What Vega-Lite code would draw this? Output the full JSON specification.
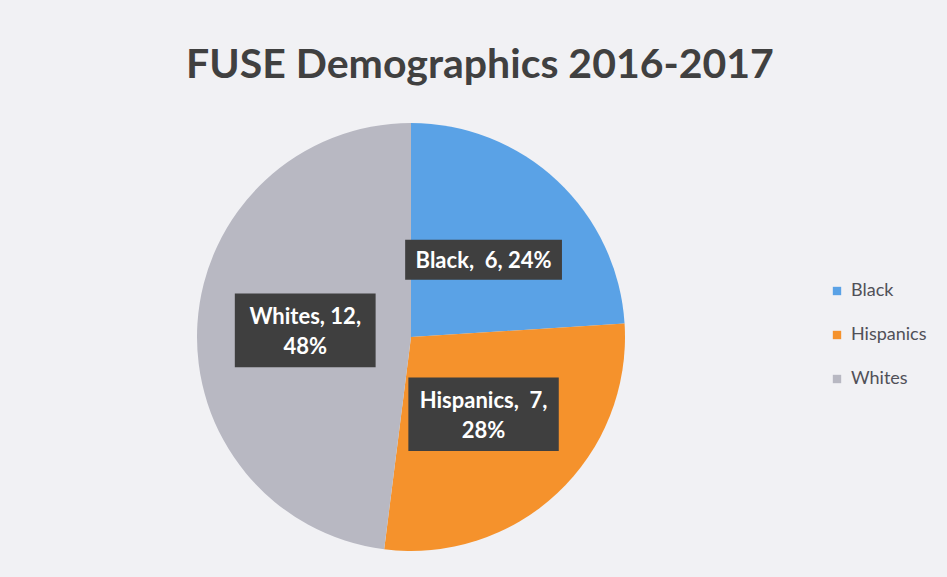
{
  "$schema": "https://vega.github.io/schema/vega-lite/v6.json",
  "autosize": "none",
  "width": 430,
  "height": 430,
  "padding": {"left": 196, "top": 122, "right": 321, "bottom": 25},
  "background": "#f1f1f4",
  "title": {
    "text": "FUSE Demographics 2016-2017",
    "font": "Lato",
    "fontSize": 41,
    "fontWeight": "bold",
    "color": "#404040",
    "anchor": "middle",
    "dx": 69,
    "offset": 35
  },
  "data": {
    "values": [
      {"group": "Black", "value": 6, "order": 1, "lines": 1, "label": ["Black,\u00a0 6, 24%"]},
      {"group": "Hispanics", "value": 7, "order": 2, "lines": 2, "label": ["Hispanics,\u00a0 7,", "28%"]},
      {"group": "Whites", "value": 12, "order": 3, "lines": 2, "label": ["Whites, 12,", "48%"]}
    ]
  },
  "config": {"view": {"stroke": null}},
  "layer": [
    {
      "mark": {"type": "arc", "outerRadius": 214},
      "encoding": {
        "theta": {"field": "value", "type": "quantitative", "stack": true},
        "order": {"field": "order", "type": "quantitative"},
        "color": {
          "field": "group",
          "type": "nominal",
          "scale": {"domain": ["Black", "Hispanics", "Whites"], "range": ["#5aa2e6", "#f5922c", "#b8b8c2"]},
          "legend": {
            "title": null,
            "orient": "none",
            "legendX": 632,
            "legendY": 160,
            "symbolType": "square",
            "symbolSize": 70,
            "symbolStrokeWidth": 0,
            "labelFontSize": 18,
            "labelFont": "Lato",
            "labelColor": "#505058",
            "rowPadding": 26,
            "labelOffset": 5
          }
        }
      }
    },
    {
      "transform": [
        {"joinaggregate": [{"op": "sum", "field": "value", "as": "total"}]},
        {"stack": "value", "groupby": [], "sort": [{"field": "order"}], "as": ["s0", "s1"]},
        {"calculate": "(datum.s0 + datum.s1) / 2 / datum.total * 2 * PI", "as": "mid"},
        {"calculate": "0.493 * sin(datum.mid)", "as": "lx"},
        {"calculate": "0.493 * cos(datum.mid)", "as": "ly"}
      ],
      "layer": [
        {
          "mark": {"type": "point", "filled": true, "opacity": 1, "color": "#3f3f3f", "size": 25600},
          "encoding": {
            "x": {"field": "lx", "type": "quantitative", "scale": {"domain": [-1, 1]}, "axis": null},
            "y": {"field": "ly", "type": "quantitative", "scale": {"domain": [-1, 1]}, "axis": null},
            "shape": {
              "field": "order",
              "type": "nominal",
              "scale": {
                "domain": [1, 2, 3],
                "range": ["M-0.98,-0.25H0.98V0.25H-0.98Z", "M-0.94,-0.46H0.94V0.46H-0.94Z", "M-0.88,-0.46H0.88V0.46H-0.88Z"]
              },
              "legend": null
            }
          }
        },
        {
          "transform": [{"filter": "datum.lines == 1"}],
          "mark": {"type": "text", "font": "Lato", "fontSize": 22, "fontWeight": "bold", "color": "#ffffff", "lineHeight": 30, "baseline": "middle", "align": "center", "dy": 1},
          "encoding": {
            "x": {"field": "lx", "type": "quantitative", "scale": {"domain": [-1, 1]}, "axis": null},
            "y": {"field": "ly", "type": "quantitative", "scale": {"domain": [-1, 1]}, "axis": null},
            "text": {"field": "label"}
          }
        },
        {
          "transform": [{"filter": "datum.lines == 2"}],
          "mark": {"type": "text", "font": "Lato", "fontSize": 22, "fontWeight": "bold", "color": "#ffffff", "lineHeight": 30, "baseline": "middle", "align": "center", "dy": -13},
          "encoding": {
            "x": {"field": "lx", "type": "quantitative", "scale": {"domain": [-1, 1]}, "axis": null},
            "y": {"field": "ly", "type": "quantitative", "scale": {"domain": [-1, 1]}, "axis": null},
            "text": {"field": "label"}
          }
        }
      ]
    }
  ]
}
